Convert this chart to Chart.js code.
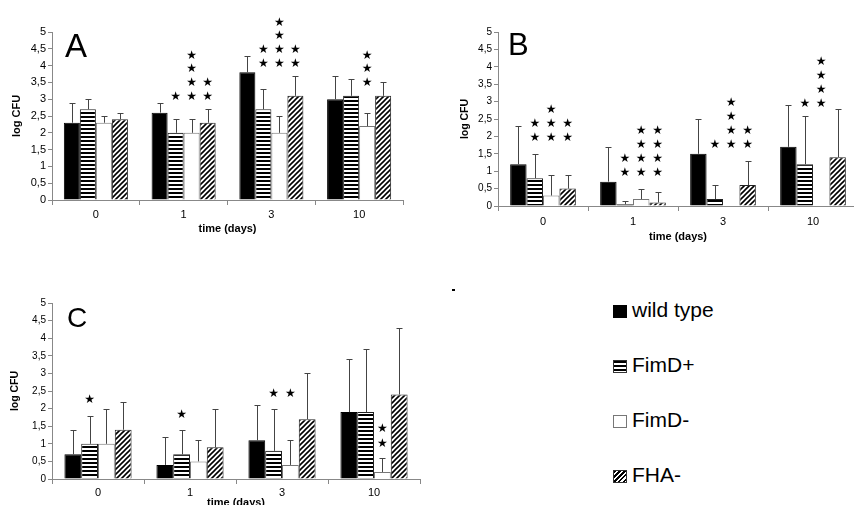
<!DOCTYPE html>
<html>
<head>
<meta charset="utf-8">
<script src="https://cdn.jsdelivr.net/npm/chart.js@4.4.1/dist/chart.umd.min.js"></script>
<style>
  body { margin: 0; width: 854px; height: 505px; overflow: hidden; background: #fff; position: relative;
         font-family: "Liberation Sans", Arial, sans-serif; }
  canvas, .abs { position: absolute; }
  .letter { color: #000; white-space: nowrap; }
  .legend-row { position: absolute; left: 613px; height: 20px; line-height: 20px; font-size: 21px; color: #000; white-space: nowrap; }
  .swatch { display: inline-block; width: 14px; height: 13px; box-sizing: border-box; vertical-align: -1px; margin-right: 5px; }
</style>
</head>
<body>
<canvas id="chartA" width="420" height="250" style="left:0;top:0"></canvas>
<canvas id="chartB" width="440" height="250" style="left:420px;top:0"></canvas>
<canvas id="chartC" width="430" height="270" style="left:0;top:250px"></canvas>

<div class="abs letter" style="left:65px;top:29px;font-size:33px;line-height:33px">A</div>
<div class="abs letter" style="left:508px;top:29px;font-size:31px;line-height:31px">B</div>
<div class="abs letter" style="left:67px;top:304px;font-size:28px;line-height:28px">C</div>
<div class="abs" style="left:452px;top:289px;width:3px;height:2px;background:#000"></div>

<div class="legend-row" style="top:300px"><span class="swatch" style="background:#000"></span>wild type</div>
<div class="legend-row" style="top:355px"><span class="swatch" style="border:1px solid #333;background:repeating-linear-gradient(to bottom,#000 0 2px,#fff 2px 4px)"></span>FimD+</div>
<div class="legend-row" style="top:410px"><span class="swatch" style="border:1px solid #777;background:#fff"></span>FimD-</div>
<div class="legend-row" style="top:465px"><span class="swatch" style="border:1px solid #333;background:repeating-linear-gradient(135deg,#000 0 1.5px,#fff 1.5px 3.5px)"></span>FHA-</div>

<script>
// categories
const days = ['0', '1', '3', '10'];
const strains = ['wild type', 'FimD+', 'FimD-', 'FHA-'];

// Panel A: mean log CFU and SD
const aWild  = [2.3, 2.6, 3.8, 3.0];
const aFimDp = [2.7, 2.0, 2.7, 3.1];
const aFimDm = [2.3, 2.0, 2.0, 2.2];
const aFha   = [2.4, 2.3, 3.1, 3.1];
const aWildSd  = [0.6, 0.3, 0.5, 0.7];
const aFimDpSd = [0.3, 0.4, 0.6, 0.5];
const aFimDmSd = [0.2, 0.4, 0.5, 0.4];
const aFhaSd   = [0.2, 0.4, 0.6, 0.4];
// significance stars per day: [wild, FimD+, FimD-, FHA-]
const aStars = [[0, 0, 0, 0], [0, 1, 4, 2], [0, 2, 4, 2], [0, 0, 3, 0]];
const aStarBase = [0, 3.07, 4.05, 3.48];

// Panel B
const bWild  = [1.2, 0.7, 1.5, 1.7];
const bFimDp = [0.8, 0.05, 0.2, 1.2];
const bFimDm = [0.3, 0.2, 0, 0];
const bFha   = [0.5, 0.1, 0.6, 1.4];
const bWildSd  = [1.1, 1.0, 1.0, 1.2];
const bFimDpSd = [0.7, 0.1, 0.4, 1.4];
const bFimDmSd = [0.6, 0.3, 0, 0];
const bFhaSd   = [0.4, 0.3, 0.7, 1.4];
const bStars = [[0, 2, 3, 2], [0, 2, 4, 4], [0, 1, 4, 2], [0, 1, 4, 0]];
const bStarBase = [1.95, 0.95, 1.75, 2.93];

// Panel C
const cWild  = [0.7, 0.4, 1.1, 1.9];
const cFimDp = [1.0, 0.7, 0.8, 1.9];
const cFimDm = [1.0, 0.5, 0.4, 0.2];
const cFha   = [1.4, 0.9, 1.7, 2.4];
const cWildSd  = [0.7, 0.8, 1.0, 1.5];
const cFimDpSd = [0.8, 0.7, 1.2, 1.8];
const cFimDmSd = [1.0, 0.6, 0.7, 0.4];
const cFhaSd   = [0.8, 1.1, 1.3, 1.9];
const cStars = [[0, 1, 0, 0], [0, 1, 0, 0], [0, 1, 1, 0], [0, 0, 2, 0]];
const cStarBase = [2.24, 1.82, 2.41, 0.99];

const FONT = '"Liberation Sans", Arial, sans-serif';

function stripePattern() {
    const c = document.createElement('canvas'); c.width = 4; c.height = 4;
    const g = c.getContext('2d');
    g.fillStyle = '#fff'; g.fillRect(0, 0, 4, 4);
    g.fillStyle = '#000'; g.fillRect(0, 0, 4, 2);
    return g.createPattern(c, 'repeat');
}
function hatchPattern() {
    const c = document.createElement('canvas'); c.width = 5; c.height = 5;
    const g = c.getContext('2d');
    g.fillStyle = '#fff'; g.fillRect(0, 0, 5, 5);
    g.strokeStyle = '#000'; g.lineWidth = 1.6;
    g.beginPath();
    g.moveTo(0, 5); g.lineTo(5, 0);
    g.moveTo(-1, 1); g.lineTo(1, -1);
    g.moveTo(4, 6); g.lineTo(6, 4);
    g.stroke();
    return g.createPattern(c, 'repeat');
}

// upward error whiskers with a small cap
const errorBars = {
    id: 'errorBars',
    afterDatasetsDraw(chart) {
        const ctx = chart.ctx, y = chart.scales.y;
        ctx.save();
        ctx.strokeStyle = '#444';
        ctx.lineWidth = 1;
        chart.data.datasets.forEach((ds, i) => {
            chart.getDatasetMeta(i).data.forEach((bar, j) => {
                const sd = ds.sd[j];
                if (!sd) return;
                const x = Math.round(bar.x) + 0.5;
                const y0 = y.getPixelForValue(ds.data[j]);
                const y1 = Math.round(y.getPixelForValue(ds.data[j] + sd)) + 0.5;
                ctx.beginPath();
                ctx.moveTo(x, y0); ctx.lineTo(x, y1);
                ctx.moveTo(x - 3, y1); ctx.lineTo(x + 3, y1);
                ctx.stroke();
            });
        });
        ctx.restore();
    }
};

// stacked significance stars above bars
const starMarks = {
    id: 'starMarks',
    afterDatasetsDraw(chart, args, opts) {
        const ctx = chart.ctx, y = chart.scales.y;
        ctx.save();
        ctx.fillStyle = '#000';
        ctx.font = '12px "DejaVu Sans"';
        ctx.textAlign = 'center';
        ctx.textBaseline = 'middle';
        opts.counts.forEach((row, j) => {
            row.forEach((n, i) => {
                const bar = chart.getDatasetMeta(i).data[j];
                for (let k = 0; k < n; k++) {
                    ctx.fillText('★', bar.x, y.getPixelForValue(opts.base[j] + k * opts.gap));
                }
            });
        });
        ctx.restore();
    }
};

function makePanel(id, values, sds, stars, starBase, lay) {
    const fills = ['#000', stripePattern(), '#fff', hatchPattern()];
    const borders = ['#000', '#222', '#777', '#222'];
    return new Chart(document.getElementById(id), {
        type: 'bar',
        data: {
            labels: days,
            datasets: strains.map((s, i) => ({
                label: s, data: values[i], sd: sds[i],
                backgroundColor: fills[i], borderColor: borders[i], borderWidth: 1,
                categoryPercentage: 0.73, barPercentage: 1
            }))
        },
        options: {
            responsive: false,
            animation: false,
            layout: { padding: { top: lay.top, right: lay.right, left: 0, bottom: 0 } },
            plugins: {
                legend: { display: false },
                tooltip: { enabled: false },
                starMarks: { counts: stars, base: starBase, gap: lay.gap }
            },
            scales: {
                x: {
                    afterFit: s => { s.height = lay.xHeight; },
                    grid: { drawOnChartArea: false, color: '#888', tickLength: 5 },
                    border: { color: '#888' },
                    ticks: { color: '#000', padding: lay.xPad, font: { family: FONT, size: 11 } },
                    title: { display: true, text: 'time (days)', color: '#000',
                             padding: { top: 0, bottom: lay.titleBottom },
                             font: { family: FONT, size: 11, weight: 'bold' } }
                },
                y: {
                    min: 0, max: 5,
                    afterFit: s => { s.width = lay.yWidth; },
                    grid: { drawOnChartArea: false, color: '#888', tickLength: 4 },
                    border: { color: '#888' },
                    ticks: { stepSize: 0.5, color: '#000', padding: 2,
                             font: { family: FONT, size: lay.yFont },
                             callback: v => String(v).replace('.', ',') },
                    title: { display: true, text: 'log CFU', color: '#000',
                             padding: { top: lay.titleLeft, bottom: 0 },
                             font: { family: FONT, size: lay.yTitleFont, weight: 'bold' } }
                }
            }
        },
        plugins: [errorBars, starMarks]
    });
}

makePanel('chartA', [aWild, aFimDp, aFimDm, aFha], [aWildSd, aFimDpSd, aFimDmSd, aFhaSd], aStars, aStarBase,
    { top: 32, right: 17, xHeight: 50, yWidth: 52, xPad: 3, titleBottom: 14.4, titleLeft: 10.4, yFont: 11, yTitleFont: 11, gap: 0.41 });
makePanel('chartB', [bWild, bFimDp, bFimDm, bFha], [bWildSd, bFimDpSd, bFimDmSd, bFhaSd], bStars, bStarBase,
    { top: 32, right: 2, xHeight: 44, yWidth: 78, xPad: 4, titleBottom: 6.4, titleLeft: 39, yFont: 10, yTitleFont: 10.5, gap: 0.4 });
makePanel('chartC', [cWild, cFimDp, cFimDm, cFha], [cWildSd, cFimDpSd, cFimDmSd, cFhaSd], cStars, cStarBase,
    { top: 53, right: 10, xHeight: 41, yWidth: 52, xPad: 2.5, titleBottom: 10.4, titleLeft: 9, yFont: 10, yTitleFont: 10.5, gap: 0.43 });
</script>
</body>
</html>
